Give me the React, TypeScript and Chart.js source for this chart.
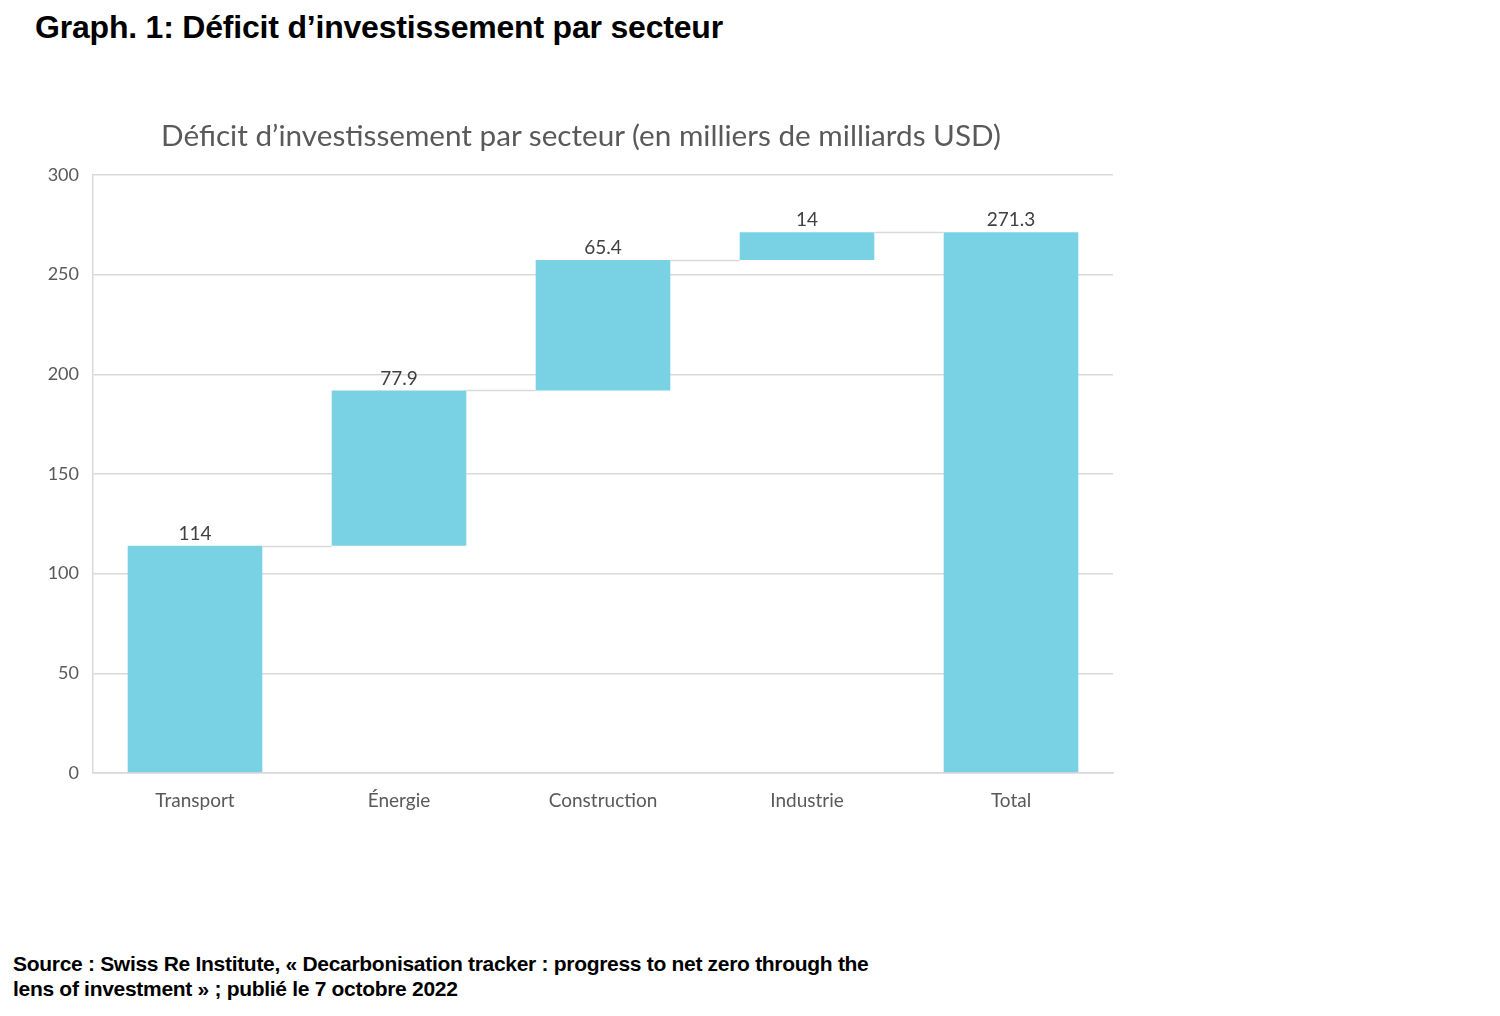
import React, { useEffect, useRef } from "react";
import { Chart, registerables } from "chart.js";

Chart.register(...registerables);

const categories = ["Transport", "Énergie", "Construction", "Industrie", "Total"];
const sectorValues = [114, 77.9, 65.4, 14];
const totalValue = 271.3;
const yTicks = [0, 50, 100, 150, 200, 250, 300];

const BAR_COLOR = "#78D2E4";
const GRID_COLOR = "#D9D9D9";
const TEXT_COLOR = "#595959";

function buildRanges(): [number, number][] {
  const ranges: [number, number][] = [];
  let start = 0;
  for (const v of sectorValues) {
    ranges.push([start, +(start + v).toFixed(1)]);
    start = +(start + v).toFixed(1);
  }
  ranges.push([0, totalValue]);
  return ranges;
}

const labelValues = [...sectorValues, totalValue];

const waterfallPlugin = {
  id: "waterfallExtras",
  afterDatasetsDraw(chart: any) {
    const ctx = chart.ctx;
    const meta = chart.getDatasetMeta(0);
    const data = chart.data.datasets[0].data as [number, number][];
    const yScale = chart.scales.y;
    ctx.save();
    // connectors
    ctx.strokeStyle = GRID_COLOR;
    ctx.lineWidth = 1.5;
    for (let i = 0; i < meta.data.length - 1; i++) {
      const cur = meta.data[i] as any;
      const nxt = meta.data[i + 1] as any;
      const level = data[i][1];
      const y = Math.round(yScale.getPixelForValue(level)) + 0.5;
      ctx.beginPath();
      ctx.moveTo(cur.x + cur.width / 2, y);
      ctx.lineTo(nxt.x - nxt.width / 2, y);
      ctx.stroke();
    }
    // labels
    ctx.fillStyle = "#404040";
    ctx.font = "19px Lato";
    ctx.textAlign = "center";
    ctx.textBaseline = "middle";
    meta.data.forEach((el: any, i: number) => {
      const top = yScale.getPixelForValue(data[i][1]);
      ctx.fillText(String(labelValues[i]), el.x, top - 12);
    });
    ctx.restore();
  },
};

export default function App() {
  const canvasRef = useRef<HTMLCanvasElement | null>(null);

  useEffect(() => {
    if (!canvasRef.current) return;
    const chart = new Chart(canvasRef.current, {
      type: "bar",
      data: {
        labels: categories,
        datasets: [
          {
            data: buildRanges() as any,
            backgroundColor: BAR_COLOR,
            borderWidth: 0,
            barPercentage: 0.66,
            categoryPercentage: 1,
          },
        ],
      },
      options: {
        animation: false,
        responsive: false,
        maintainAspectRatio: false,
        layout: { padding: { left: 0, right: 17, top: 74, bottom: 0 } },
        plugins: {
          legend: { display: false },
          tooltip: { enabled: false },
          title: { display: false },
        },
        scales: {
          x: {
            grid: { display: false, drawTicks: false },
            border: { display: true, color: GRID_COLOR, width: 1.5 },
            ticks: {
              color: TEXT_COLOR,
              font: { family: "Lato", size: 19 },
              padding: 16.5,
            },
            afterFit(scale: any) {
              scale.height = 50;
            },
          },
          y: {
            min: 0,
            max: 300,
            afterBuildTicks(scale: any) {
              scale.ticks = yTicks.map((v) => ({ value: v }));
            },
            grid: { color: GRID_COLOR, lineWidth: 1.5, drawTicks: false },
            border: { display: true, color: GRID_COLOR, width: 1.5 },
            ticks: {
              color: TEXT_COLOR,
              font: { family: "Lato", size: 18 },
              padding: 14,
            },
            afterFit(scale: any) {
              scale.width = 93;
            },
          },
        },
      },
      plugins: [waterfallPlugin],
    });
    return () => chart.destroy();
  }, []);

  return (
    <div
      style={{
        position: "absolute",
        left: 0,
        top: 0,
        width: 1500,
        height: 1016,
        background: "#fff",
        fontFamily: "'Liberation Sans', Arial, sans-serif",
      }}
    >
      <div
        style={{
          position: "absolute",
          left: 35,
          top: 9,
          fontSize: 32,
          fontWeight: "bold",
          letterSpacing: -0.2,
          color: "#000",
          whiteSpace: "nowrap",
        }}
      >
        Graph. 1: Déficit d’investissement par secteur
      </div>
      <canvas
        ref={canvasRef}
        width={1130}
        height={722}
        style={{ position: "absolute", left: 0, top: 101, width: 1130, height: 722 }}
      />
      <div
        style={{
          position: "absolute",
          left: 0,
          top: 117,
          width: 1162,
          textAlign: "center",
          fontFamily: "Lato",
          fontSize: 29.7,
          lineHeight: "36px",
          color: TEXT_COLOR,
          whiteSpace: "nowrap",
        }}
      >
        Déficit d’investissement par secteur (en milliers de milliards USD)
      </div>
      <div
        style={{
          position: "absolute",
          left: 13,
          top: 951,
          fontSize: 21,
          lineHeight: "25px",
          fontWeight: "bold",
          letterSpacing: -0.3,
          color: "#000",
          width: 950,
          whiteSpace: "nowrap",
        }}
      >
        Source : Swiss Re Institute, « Decarbonisation tracker : progress to net zero through the
        <br />
        lens of investment » ; publié le 7 octobre 2022
      </div>
    </div>
  );
}
